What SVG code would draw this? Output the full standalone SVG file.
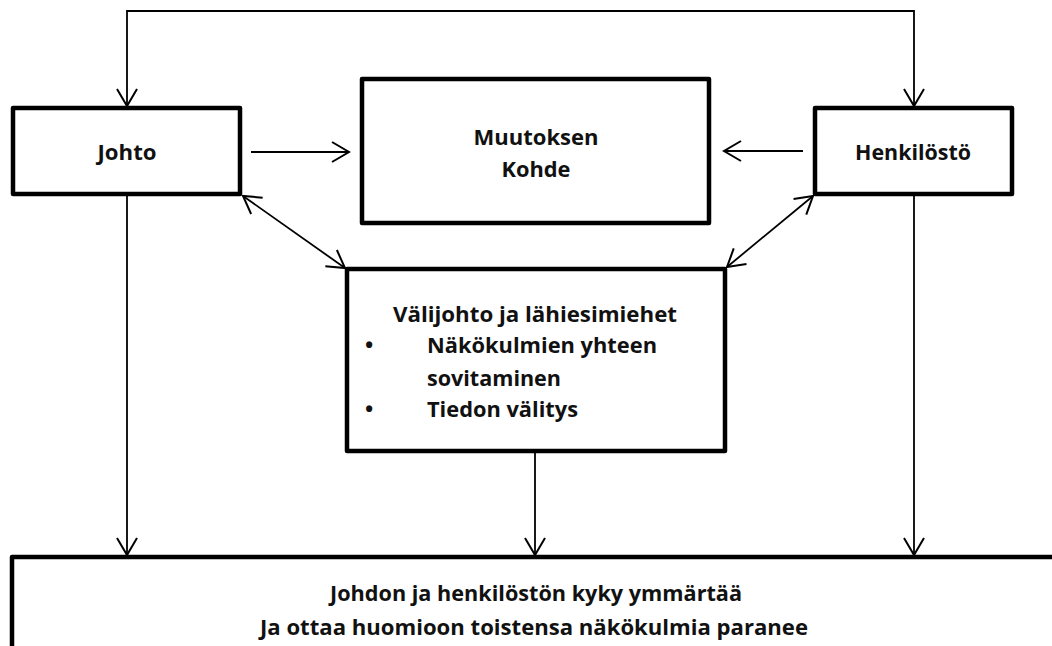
<svg xmlns="http://www.w3.org/2000/svg" width="1052" height="646" viewBox="0 0 1052 646">
<defs>
<marker id="arr" markerUnits="userSpaceOnUse" markerWidth="24" markerHeight="24" viewBox="-20 -12 24 24" refX="0" refY="0" orient="auto-start-reverse">
<path d="M-17,-10 L0,0 L-17,10" fill="none" stroke="#000" stroke-width="2"/>
</marker>
<style>
.box{fill:#fff;stroke:#000;stroke-width:4.5;stroke-linejoin:round}
.ln{fill:none;stroke:#000;stroke-width:1.8}
.t{font-family:"Open Sans","Liberation Sans",sans-serif;font-weight:bold;font-size:22px;fill:#111}
.c{text-anchor:middle}
</style>
</defs>
<rect width="1052" height="646" fill="#fff"/>
<g id="connectors">
<path class="ln" d="M127,106 L127,11 L914,11 L914,106" marker-start="url(#arr)" marker-end="url(#arr)"/>
<line class="ln" x1="251" y1="152" x2="349" y2="152" marker-end="url(#arr)"/>
<line class="ln" x1="803" y1="151" x2="724" y2="151" marker-end="url(#arr)"/>
<line class="ln" x1="243" y1="196" x2="345" y2="268" marker-start="url(#arr)" marker-end="url(#arr)"/>
<line class="ln" x1="813" y1="196" x2="727" y2="267" marker-start="url(#arr)" marker-end="url(#arr)"/>
<line class="ln" x1="127" y1="196" x2="127" y2="555" marker-end="url(#arr)"/>
<line class="ln" x1="535" y1="453" x2="535" y2="555" marker-end="url(#arr)"/>
<line class="ln" x1="914" y1="196" x2="914" y2="555" marker-end="url(#arr)"/>
</g>
<g id="johto">
<rect class="box" x="13" y="108" width="227" height="86"/>
<text class="t c" x="127" y="160" textLength="59" lengthAdjust="spacingAndGlyphs">Johto</text>
</g>
<g id="muutoksen">
<rect class="box" x="362" y="79" width="347" height="144"/>
<text class="t c" x="536" y="145" textLength="125" lengthAdjust="spacingAndGlyphs">Muutoksen</text>
<text class="t c" x="536" y="177" textLength="69" lengthAdjust="spacingAndGlyphs">Kohde</text>
</g>
<g id="henkilosto">
<rect class="box" x="815" y="108" width="197" height="86"/>
<text class="t c" x="913" y="160" textLength="116" lengthAdjust="spacingAndGlyphs">Henkilöstö</text>
</g>
<g id="valijohto">
<rect class="box" x="347" y="269" width="378" height="182"/>
<text class="t" x="393" y="322" textLength="284" lengthAdjust="spacingAndGlyphs">Välijohto ja lähiesimiehet</text>
<text class="t" x="365" y="353">•</text>
<text class="t" x="427" y="353" textLength="230" lengthAdjust="spacingAndGlyphs">Näkökulmien yhteen</text>
<text class="t" x="427" y="386" textLength="134" lengthAdjust="spacingAndGlyphs">sovitaminen</text>
<text class="t" x="365" y="417">•</text>
<text class="t" x="427" y="417" textLength="151" lengthAdjust="spacingAndGlyphs">Tiedon välitys</text>
</g>
<g id="tulos">
<rect class="box" x="12" y="557" width="1060" height="120"/>
<text class="t c" x="536" y="601" textLength="412" lengthAdjust="spacingAndGlyphs">Johdon ja henkilöstön kyky ymmärtää</text>
<text class="t c" x="534" y="635" textLength="548" lengthAdjust="spacingAndGlyphs">Ja ottaa huomioon toistensa näkökulmia paranee</text>
</g>
</svg>
